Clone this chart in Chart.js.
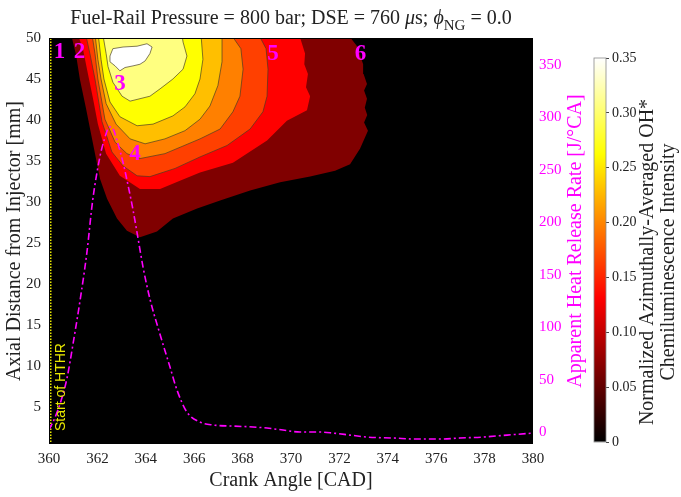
<!DOCTYPE html>
<html>
<head>
<meta charset="utf-8">
<script src="https://cdn.jsdelivr.net/npm/chart.js@4.4.1/dist/chart.umd.min.js"></script>
<style>
  html, body { margin: 0; padding: 0; background: #fff; }
  #wrap { position: relative; width: 681px; height: 497px; }
  #main { position: absolute; left: 0; top: 0; }
  #cbar { position: absolute; left: 585px; top: 0; }
</style>
</head>
<body>
<div id="wrap">
  <canvas id="main" width="681" height="497"></canvas>
  <canvas id="cbar" width="96" height="497"></canvas>
</div>
<script>
// ---- axes ----
const cadTicks = [360, 362, 364, 366, 368, 370, 372, 374, 376, 378, 380];
const mmTicks = [5, 10, 15, 20, 25, 30, 35, 40, 45, 50];
const hrrTicks = [0, 50, 100, 150, 200, 250, 300, 350];
const intensityTicks = [0, 0.05, 0.10, 0.15, 0.20, 0.25, 0.30, 0.35];

// ---- apparent heat release rate [J/CA] vs crank angle ----
const hrrCad = [360.0, 360.25, 360.5, 360.75, 361.0, 361.28, 361.57, 361.8, 362.1, 362.3, 362.5, 362.65,
  362.81, 363.06, 363.26, 363.47, 363.64, 363.88, 364.17, 364.59, 365.0, 365.29, 365.7, 366.24, 366.78,
  367.6, 368.43, 369.01, 369.67, 370.37, 371.2, 371.74, 372.44, 373.14, 374.21, 375.21, 376.16, 376.98,
  377.93, 378.93, 380.0];
const hrrValue = [2, 14, 30, 52, 85, 125, 172, 220, 262, 280, 291, 289,
  278, 257, 236, 212, 190, 158, 127, 93, 62, 40, 19, 9.5, 6.7,
  5.7, 4.8, 3.8, 1.9, 0, 0, -1, -2.9, -4.8, -5.7, -6.7, -6.7, -5.7,
  -4.8, -2.9, -1];

const hthrStart = 360.07;

// ---- OH* contour bands [CAD, mm], outermost (lowest level) first ----
const contourDarkRed = [[360.9,52],[360.95,50],[361.12,47.9],[361.28,44.9],[361.53,41.4],[361.78,37.7],[362.11,32.8],
  [362.4,30.4],[362.81,28.0],[363.22,26.5],[363.76,25.7],[364.46,26.4],[365.12,28.0],[366.12,29.2],[367.07,30.2],
  [368.31,31.4],[369.55,32.4],[370.79,33.1],[371.82,33.8],[372.44,34.6],[372.85,36.5],[373.18,38.7],[373.02,39.7],
  [373.15,40.6],[373.05,41.5],[373.14,42.6],[373.02,43.6],[373.14,44.4],[373.0,45.6],[372.98,46.8],[372.73,49.0],
  [372.44,50.1],[372.4,52]];
const contourRed = [[361.2,52],[361.24,50],[361.4,48.7],[361.61,45.6],[361.82,42.6],[362.02,39.5],[362.36,35.9],
  [362.93,33.2],[363.76,31.6],[364.59,31.6],[365.41,32.6],[366.24,33.6],[367.6,34.8],[369.01,37.5],[369.83,39.9],
  [370.66,41.2],[370.79,42.9],[370.62,44.0],[370.7,45.6],[370.55,46.8],[370.58,48.1],[370.37,50.1],[370.3,52]];
const contourOrangeRed = [[361.5,52],[361.55,50],[361.69,48.1],[361.9,45.0],[362.19,39.8],[362.6,36.1],[363.06,34.4],
  [363.64,33.2],[364.17,33.1],[365.21,34.1],[366.24,35.5],[367.36,36.9],[368.31,38.9],[368.84,41.0],[369.01,42.9],
  [369.05,46.2],[368.97,48.7],[368.72,50.1],[368.7,52]];
const contourOrange = [[361.75,52],[361.8,50],[361.9,48.1],[362.02,45.0],[362.31,40.1],[362.73,37.3],[363.22,35.9],
  [363.76,35.3],[364.79,35.9],[366.24,37.7],[367.07,38.9],[367.6,41.0],[367.89,42.9],[368.02,46.2],[367.93,48.7],
  [367.6,50.1],[367.6,52]];
const contourAmber = [[361.88,52],[361.92,50],[362.02,47.4],[362.15,45.0],[362.36,42.0],[362.77,39.5],[363.35,37.7],
  [363.97,37.1],[364.79,37.7],[365.62,38.7],[366.24,40.1],[366.65,41.7],[366.98,44.2],[367.15,47.1],[367.15,52]];
const contourYellow = [[362.0,52],[362.05,50],[362.15,47.4],[362.27,45.0],[362.52,42.2],[362.93,40.4],[363.64,39.3],
  [364.3,39.5],[365.12,40.5],[365.62,41.6],[366.03,43.2],[366.24,45.0],[366.36,47.4],[366.24,52]];
const contourPale = [[362.2,52],[362.25,50],[362.36,48.1],[362.44,46.5],[362.64,44.6],[363.02,42.9],[363.35,42.3],
  [363.76,42.6],[364.17,42.9],[364.59,43.8],[365.12,45.0],[365.54,46.2],[365.7,47.8],[365.54,49.5],[365.41,52]];
const contourWhite = [[362.52,47.8],[362.64,48.7],[363.06,48.9],[363.64,49.0],[364.05,49.3],[364.26,48.9],
  [364.17,48.1],[363.97,47.2],[363.76,46.8],[363.47,46.6],[363.14,46.4],[362.93,46.0],[362.73,46.6],
  [362.52,47.1],[362.52,47.8]];

// event markers 1-6 [label, CAD, mm]
const markers = [["1", 360.43, 48.3], ["2", 361.26, 48.3], ["3", 362.93, 44.4],
  ["4", 363.55, 35.9], ["5", 369.26, 48.1], ["6", 372.87, 48.1]];

const SERIF = '"Liberation Serif", "Times New Roman", serif';
const SANS = '"Liberation Sans", Arial, sans-serif';
const INK = "#222";
const MAGENTA = "#ff00ff";
const CONTOUR_LINE = "rgba(70,60,35,0.85)";

// hot colormap stops
const hotStops = [[0, "#000000"], [0.375, "#ff0000"], [0.75, "#ffff00"], [1, "#ffffff"]];

const pts = arr => arr.map(([x, y]) => ({ x, y }));

function band(poly, color, outlined) {
  return {
    data: pts(poly),
    yAxisID: "y",
    backgroundColor: color,
    borderColor: outlined ? CONTOUR_LINE : color,
    borderWidth: outlined ? 0.8 : 0,
    fill: "shape",
    pointRadius: 0,
    tension: 0,
    clip: 0
  };
}

const overlay = {
  id: "overlay",
  beforeDraw(chart) {
    const { ctx, chartArea: a } = chart;
    ctx.save();
    ctx.fillStyle = "#000";
    ctx.fillRect(a.left, a.top, a.right - a.left, a.bottom - a.top);
    ctx.restore();
  },
  afterDraw(chart) {
    const { ctx, chartArea: a, scales } = chart;
    ctx.save();

    // plot box
    ctx.strokeStyle = "#000";
    ctx.lineWidth = 1;
    ctx.strokeRect(a.left + 0.5, a.top + 0.5, a.right - a.left - 1, a.bottom - a.top - 1);

    // title
    const parts = [
      { t: "Fuel-Rail Pressure = 800 bar; DSE = 760 ", f: "20px " + SERIF, dy: 0 },
      { t: "\u03bc", f: "italic 20px " + SERIF, dy: 0 },
      { t: "s; ", f: "20px " + SERIF, dy: 0 },
      { t: "\u03d5", f: "italic 20px " + SERIF, dy: 0 },
      { t: "NG", f: "15px " + SERIF, dy: 6 },
      { t: " = 0.0", f: "20px " + SERIF, dy: 0 }
    ];
    let total = 0;
    parts.forEach(p => { ctx.font = p.f; p.w = ctx.measureText(p.t).width; total += p.w; });
    let x = (a.left + a.right) / 2 - total / 2;
    ctx.fillStyle = INK;
    ctx.textBaseline = "alphabetic";
    ctx.textAlign = "left";
    parts.forEach(p => { ctx.font = p.f; ctx.fillText(p.t, x, 24 + p.dy); x += p.w; });

    // right axis title, reading upward
    ctx.save();
    ctx.translate(576, (a.top + a.bottom) / 2);
    ctx.rotate(-Math.PI / 2);
    ctx.font = "20px " + SERIF;
    ctx.fillStyle = MAGENTA;
    ctx.textAlign = "center";
    ctx.textBaseline = "middle";
    ctx.fillText("Apparent Heat Release Rate [J/\u00b0CA]", 0, 0);
    ctx.restore();

    // start of HTHR label
    ctx.save();
    ctx.translate(scales.x.getPixelForValue(hthrStart) + 10, a.bottom - 13);
    ctx.rotate(-Math.PI / 2);
    ctx.font = "14px " + SANS;
    ctx.fillStyle = "#e8e800";
    ctx.textAlign = "left";
    ctx.textBaseline = "middle";
    ctx.fillText("Start of HTHR", 0, 0);
    ctx.restore();

    // numbered markers
    ctx.font = "bold 23px " + SERIF;
    ctx.fillStyle = MAGENTA;
    ctx.textAlign = "center";
    ctx.textBaseline = "middle";
    markers.forEach(([t, cx, cy]) => {
      ctx.fillText(t, scales.x.getPixelForValue(cx), scales.y.getPixelForValue(cy));
    });

    ctx.restore();
  }
};

new Chart(document.getElementById("main"), {
  type: "scatter",
  data: {
    datasets: [
      {
        data: hrrCad.map((c, i) => ({ x: c, y: hrrValue[i] })),
        yAxisID: "y2",
        borderColor: MAGENTA,
        borderWidth: 1.6,
        borderDash: [7, 3, 2, 3],
        pointRadius: 0,
        cubicInterpolationMode: "monotone",
        fill: false
      },
      {
        data: [{ x: hthrStart, y: 0 }, { x: hthrStart, y: 52 }],
        yAxisID: "y",
        borderColor: "#e8e800",
        borderWidth: 1.6,
        borderDash: [1.5, 1.5],
        pointRadius: 0,
        fill: false
      },
      band(contourWhite, "#ffffff", true),
      band(contourPale, "#ffff80", true),
      band(contourYellow, "#ffff00", true),
      band(contourAmber, "#ffbf00", true),
      band(contourOrange, "#ff8000", true),
      band(contourOrangeRed, "#ff4000", true),
      band(contourRed, "#ff0000", false),
      band(contourDarkRed, "#800000", false)
    ]
  },
  options: {
    responsive: false,
    animation: false,
    devicePixelRatio: 1,
    showLine: true,
    layout: { padding: { left: 0, top: 38, right: 88, bottom: 0 } },
    plugins: { legend: { display: false }, tooltip: { enabled: false } },
    scales: {
      x: {
        type: "linear",
        min: 360, max: 380,
        grid: { display: false, drawTicks: false },
        border: { display: false },
        afterBuildTicks: s => { s.ticks = cadTicks.map(v => ({ value: v })); },
        ticks: { font: { family: SERIF, size: 15 }, color: INK, padding: 6, maxRotation: 0 },
        title: { display: true, text: "Crank Angle [CAD]", font: { family: SERIF, size: 20 }, color: INK, padding: { top: 0, bottom: 4.6 } },
        afterFit: s => { s.height = 53; }
      },
      y: {
        type: "linear",
        position: "left",
        min: 0.5, max: 50,
        grid: { display: false, drawTicks: false },
        border: { display: false },
        afterBuildTicks: s => { s.ticks = mmTicks.map(v => ({ value: v })); },
        ticks: { font: { family: SERIF, size: 15 }, color: INK, padding: 8 },
        title: { display: true, text: "Axial Distance from Injector [mm]", font: { family: SERIF, size: 20 }, color: INK, padding: { top: 3, bottom: 0 } },
        afterFit: s => { s.width = 49; }
      },
      y2: {
        type: "linear",
        position: "right",
        min: -11.4, max: 375.7,
        grid: { display: false, drawTicks: false },
        border: { display: false },
        afterBuildTicks: s => { s.ticks = hrrTicks.map(v => ({ value: v })); },
        ticks: { font: { family: SERIF, size: 15 }, color: MAGENTA, padding: 6 },
        afterFit: s => { s.width = 60; }
      }
    }
  },
  plugins: [overlay]
});

// ---- colour bar ----
const cbarDeco = {
  id: "cbarDeco",
  afterDraw(chart) {
    const { ctx, chartArea: a } = chart;
    ctx.save();
    ctx.strokeStyle = "#8a8a8a";
    ctx.lineWidth = 0.8;
    ctx.strokeRect(a.left, a.top, a.right - a.left, a.bottom - a.top);
    ctx.translate(0, 262);
    ctx.rotate(-Math.PI / 2);
    ctx.font = "20px " + SERIF;
    ctx.fillStyle = INK;
    ctx.textAlign = "center";
    ctx.textBaseline = "middle";
    ctx.fillText("Normalized Azimuthally-Averaged OH*", 0, 63);
    ctx.fillText("Chemiluminescence Intensity", 0, 84);
    ctx.restore();
  }
};

new Chart(document.getElementById("cbar"), {
  type: "bar",
  data: {
    labels: [""],
    datasets: [{
      data: [0.35],
      barPercentage: 1,
      categoryPercentage: 1,
      backgroundColor: c => {
        const a = c.chart.chartArea;
        if (!a) return "#000";
        const g = c.chart.ctx.createLinearGradient(0, a.bottom, 0, a.top);
        hotStops.forEach(([p, col]) => g.addColorStop(p, col));
        return g;
      },
      borderWidth: 0
    }]
  },
  options: {
    responsive: false,
    animation: false,
    devicePixelRatio: 1,
    layout: { padding: { left: 9, top: 58, right: 0, bottom: 55 } },
    plugins: { legend: { display: false }, tooltip: { enabled: false } },
    scales: {
      x: { display: false },
      y: {
        position: "right",
        min: 0, max: 0.35,
        grid: { display: true, drawOnChartArea: false, drawTicks: true, tickLength: 3, color: "#444" },
        border: { display: false },
        afterBuildTicks: s => { s.ticks = intensityTicks.map(v => ({ value: v })); },
        ticks: {
          font: { family: SERIF, size: 14 }, color: INK, padding: 3,
          callback: v => (v === 0 ? "0" : v.toFixed(2))
        },
        afterFit: s => { s.width = 75; }
      }
    }
  },
  plugins: [cbarDeco]
});
</script>
</body>
</html>
